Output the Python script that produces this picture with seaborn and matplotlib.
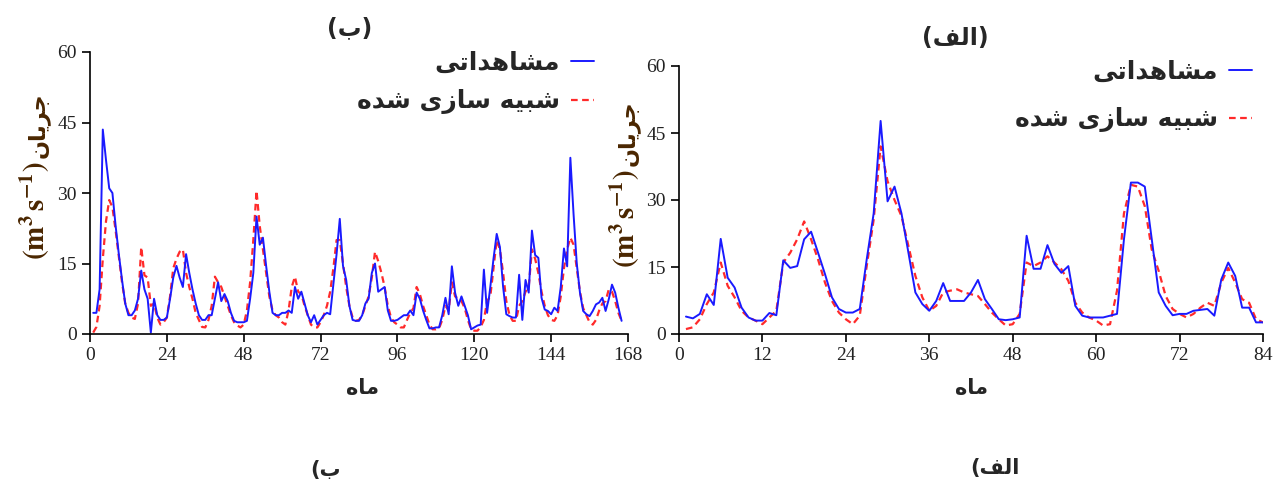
import numpy as np
import pandas as pd
import matplotlib
matplotlib.use("Agg")
import matplotlib.pyplot as plt
import seaborn as sns

# ---------------- data ----------------
left_obs = [4.5, 4.5, 9.5, 43.5, 37, 31, 30, 23, 17, 11.5, 6.5, 4, 4, 5, 7.5, 13.5, 9.5, 7.5, 0.3, 7.5,
            4, 3, 3, 3.5, 7.5, 12, 14.5, 12, 10, 17, 13, 9.5, 6.5, 4, 3, 3, 4, 4, 7.5, 11,
            7, 8.5, 7, 4.5, 2.8, 2.5, 2.5, 2.5, 2.8, 7.5, 13, 25, 19, 20.5, 14.5, 9, 4.5, 4, 4, 4.5,
            4.5, 5, 4.5, 10, 7.5, 9, 6.5, 4, 2.5, 4, 2, 3, 4, 4.5, 4.2, 10.5, 17, 24.5, 14.5, 11.5,
            6, 3, 2.8, 2.8, 4, 6.5, 7.5, 13, 15, 9, 9.5, 10, 5, 2.8, 2.8, 3, 3.5, 4, 4, 5,
            4, 8.8, 7.5, 5, 3, 1.2, 1.2, 1.4, 1.4, 4, 7.7, 4.2, 14.4, 8.8, 6, 8, 6, 4, 1, 1.4,
            1.8, 2, 13.7, 4.5, 10, 16, 21.3, 18.5, 10, 4.2, 3.8, 3.5, 3.5, 12.6, 3, 11.5, 8.8, 22, 16.8, 16.2,
            7.7, 5.2, 4.9, 4.2, 5.6, 4.9, 10, 18.2, 14.4, 37.5, 25.5, 15, 8.8, 4.9, 4.2, 3.8, 4.9, 6.3, 6.7, 7.7,
            4.9, 7.4, 10.5, 8.8, 5.6, 2.8]
left_sim = [0.3, 1.5, 6, 16, 24, 28.5, 27, 22, 16.5, 11, 6.5, 4.5, 3.5, 3.2, 6.5, 18.5, 12.5, 12, 6, 6.5,
            3.5, 2, 2.5, 3.5, 8, 14, 16, 17.5, 18, 13, 10, 7.5, 4.5, 3, 1.5, 1.4, 3, 6, 12.2, 11,
            10, 8, 6, 4, 2.5, 1.8, 1.4, 2, 5, 11, 20, 30.5, 23, 18, 13, 8, 5, 4, 3.5, 2.5,
            2, 5, 10, 12.2, 9, 8.5, 6, 4, 2, 1.4, 1.4, 2.5, 4, 6, 9, 14, 20, 20, 15, 10,
            6, 3.5, 2.8, 3, 4, 6, 8, 12, 17.5, 15.5, 13, 10, 6, 3.5, 2.5, 2, 1.4, 1.4, 3, 4.5,
            5.5, 10, 8.5, 6, 4, 2, 1, 1, 1.2, 3, 6, 5, 11, 8, 7.5, 7, 5.5, 3, 1, 0.7,
            0.7, 1.5, 3, 7, 8, 14, 20, 18, 13, 7, 4, 2.8, 2.8, 6, 7, 9, 10, 18, 16, 13,
            9, 6, 4, 3, 2.8, 4, 8, 14, 18, 20.5, 19, 14, 9, 5.5, 4, 2.5, 2, 3, 5, 6.5,
            7, 9.5, 9, 7, 4.5, 2.8]
right_obs = [3.9, 3.5, 4.5, 8.9, 6.5, 21.3, 12.6, 10.4, 5.9, 3.7, 3, 3, 4.7, 4.2, 16.5, 14.8, 15.2, 21.2, 22.9, 18.2,
             13.4, 8.2, 5.6, 4.8, 4.8, 5.6, 16.7, 27, 47.7, 29.7, 33, 27, 18.2, 9.3, 6.7, 5.2, 7.4, 11.4, 7.4, 7.4,
             7.4, 9.3, 12.1, 7.8, 5.6, 3.3, 3.1, 3.3, 3.7, 22, 14.6, 14.6, 19.9, 15.7, 13.7, 15.2, 6.3, 4.1, 3.7, 3.7,
             3.7, 4.1, 4.5, 21.2, 33.9, 33.9, 33, 21.2, 9.3, 6.3, 4.2, 4.5, 4.5, 5.2, 5.4, 5.6, 4.1, 12.2, 16, 13,
             5.9, 5.9, 2.6, 2.6]
right_sim = [1.1, 1.5, 3.3, 6.7, 9.3, 16, 10.8, 8.2, 5.2, 3.7, 3, 2.2, 3.7, 5.2, 16, 18.2, 21.2, 25.2, 21.2, 16.7,
             11.5, 7.4, 4.8, 3.3, 2.2, 4.1, 15.2, 25.6, 42, 34.2, 30, 26.4, 19.7, 13, 8.2, 5.2, 6.3, 9.3, 9.7, 10,
             9.3, 8.9, 8.5, 6.7, 4.8, 3.3, 1.9, 2.2, 4.5, 16, 15.2, 16, 17.4, 16, 14.5, 11.9, 7, 4.8, 3.7, 3,
             1.9, 2.2, 9.7, 27, 33.4, 33, 28.6, 18.9, 14.1, 8.5, 5.6, 4.5, 3.7, 4.5, 5.9, 7, 6.3, 11.5, 14.8, 11.5,
             7.8, 7, 3.3, 2.6]
left_months = list(range(1, len(left_obs) + 1))
right_months = list(range(1, len(right_obs) + 1))
left_xticks = [0, 24, 48, 72, 96, 120, 144, 168]
right_xticks = [0, 12, 24, 36, 48, 60, 72, 84]
yticks = [0, 15, 30, 45, 60]

# ---------------- minimal Persian shaping (matplotlib has no bidi/shaping) -------------
FORMS = {  # iso, fin, ini, med
    '\u0627': ('\uFE8D', '\uFE8E', None, None),
    '\u0628': ('\uFE8F', '\uFE90', '\uFE91', '\uFE92'),
    '\u062A': ('\uFE95', '\uFE96', '\uFE97', '\uFE98'),
    '\u062C': ('\uFE9D', '\uFE9E', '\uFE9F', '\uFEA0'),
    '\u062F': ('\uFEA9', '\uFEAA', None, None),
    '\u0631': ('\uFEAD', '\uFEAE', None, None),
    '\u0632': ('\uFEAF', '\uFEB0', None, None),
    '\u0633': ('\uFEB1', '\uFEB2', '\uFEB3', '\uFEB4'),
    '\u0634': ('\uFEB5', '\uFEB6', '\uFEB7', '\uFEB8'),
    '\u0641': ('\uFED1', '\uFED2', '\uFED3', '\uFED4'),
    '\u0644': ('\uFEDD', '\uFEDE', '\uFEDF', '\uFEE0'),
    '\u0645': ('\uFEE1', '\uFEE2', '\uFEE3', '\uFEE4'),
    '\u0646': ('\uFEE5', '\uFEE6', '\uFEE7', '\uFEE8'),
    '\u0647': ('\uFEE9', '\uFEEA', '\uFEEB', '\uFEEC'),
    '\u06CC': ('\uFEEF', '\uFEF0', '\uFEF3', '\uFEF4'),
}
MIRROR = {'(': ')', ')': '('}


def shape(text):
    out = []
    n = len(text)
    for i, ch in enumerate(text):
        if ch not in FORMS:
            out.append(MIRROR.get(ch, ch))
            continue
        f = FORMS[ch]
        prev = text[i - 1] if i > 0 else None
        nxt = text[i + 1] if i < n - 1 else None
        jp = prev in FORMS and FORMS[prev][2] is not None
        jn = nxt in FORMS and f[2] is not None
        if jp and jn:
            out.append(f[3])
        elif jp:
            out.append(f[1])
        elif jn:
            out.append(f[2])
        else:
            out.append(f[0])
    return ''.join(reversed(out))


lbl_obs = shape('مشاهداتی')
lbl_sim = shape('شبیه سازی شده')
xlab = shape('ماه')
ylab_fa = shape('جریان')

# ---------------- style ----------------
sns.set_style('ticks')
plt.rcParams['font.family'] = ['Liberation Serif', 'DejaVu Sans']
plt.rcParams['mathtext.fontset'] = 'stix'
FA = ['DejaVu Sans']

fig = plt.figure(figsize=(12.83, 4.91), dpi=100)
W, H = 1283, 491


def fx(px):
    return px / W


def fy(py):
    return 1 - py / H


ax_l = fig.add_axes([fx(90), fy(334), fx(628) - fx(90), fy(52) - fy(334)])
ax_r = fig.add_axes([fx(679), fy(334), fx(1263) - fx(679), fy(66) - fy(334)])

BLUE = '#1a1aff'
RED = '#ff2a2a'
YCOL = '#4a2600'

panels = [
    (ax_l, left_months, left_obs, left_sim, left_xticks, 168),
    (ax_r, right_months, right_obs, right_sim, right_xticks, 84),
]
for ax, mths, obs, sim, xt, xmax in panels:
    df = pd.DataFrame({'m': mths, 'obs': obs, 'sim': sim})
    sns.lineplot(data=df, x='m', y='sim', ax=ax, color=RED, lw=1.6, label=lbl_sim)
    sns.lineplot(data=df, x='m', y='obs', ax=ax, color=BLUE, lw=1.4, label=lbl_obs)
    ax.lines[0].set_dashes([3, 2])
    ax.set_xlim(0, xmax)
    ax.set_ylim(0, 60)
    ax.set_xticks(xt)
    ax.set_yticks(yticks)
    ax.set_xlabel('')
    ax.set_ylabel('')
    for s in ['top', 'right']:
        ax.spines[s].set_visible(False)
    for s in ['left', 'bottom']:
        ax.spines[s].set_color('black')
        ax.spines[s].set_linewidth(1.2)
    ax.tick_params(axis='both', direction='out', length=6, width=1.2, colors='black',
                   labelsize=14, labelcolor='#222222')
    for t in ax.get_xticklabels() + ax.get_yticklabels():
        t.set_family('Liberation Serif')
    ax.get_legend().remove()

# legends (text first, short handle on the right)
for ax, (x_anchor, y_anchor), spacing in [(ax_l, (fx(596), fy(48)), 0.6),
                                          (ax_r, (fx(1254), fy(57)), 0.95)]:
    h, l = ax.get_legend_handles_labels()
    order = [1, 0]
    fig.legend([h[i] for i in order], [l[i] for i in order], loc='upper right',
               bbox_to_anchor=(x_anchor, y_anchor), frameon=False, markerfirst=False,
               handlelength=0.9, handletextpad=0.45, labelspacing=spacing,
               borderpad=0.1, borderaxespad=0.0,
               prop={'family': FA, 'weight': 'bold', 'size': 18}, alignment='right')

# titles
fig.text(fx(350), fy(28), '(' + shape('ب') + ')', ha='center', va='center',
         family=FA, weight='bold', fontsize=17)
fig.text(fx(955), fy(38), '(' + shape('الف') + ')', ha='center', va='center',
         family=FA, weight='bold', fontsize=17)

# x labels
fig.text(fx(362), fy(388), xlab, ha='center', va='center', family=FA, weight='bold', fontsize=15)
fig.text(fx(972), fy(388), xlab, ha='center', va='center', family=FA, weight='bold', fontsize=15)

# y labels
for xc, ysplit in [(38, 158), (628, 166)]:
    fig.text(fx(xc), fy(ysplit), ylab_fa, rotation=90, ha='center', va='bottom',
             family=FA, weight='bold', fontsize=16, color=YCOL)
    fig.text(fx(xc - 3), fy(ysplit + 3), r'$\mathbf{(m^{3}\,s^{-1})}$', rotation=90, ha='center',
             va='top', fontsize=21, color=YCOL)

# bottom captions
fig.text(fx(325), fy(470), '(' + shape('ب'), ha='center', va='center', family=FA,
         weight='bold', fontsize=15)
fig.text(fx(995), fy(468), '(' + shape('الف'), ha='center', va='center', family=FA,
         weight='bold', fontsize=15)

fig.savefig('out.png', dpi=100)
